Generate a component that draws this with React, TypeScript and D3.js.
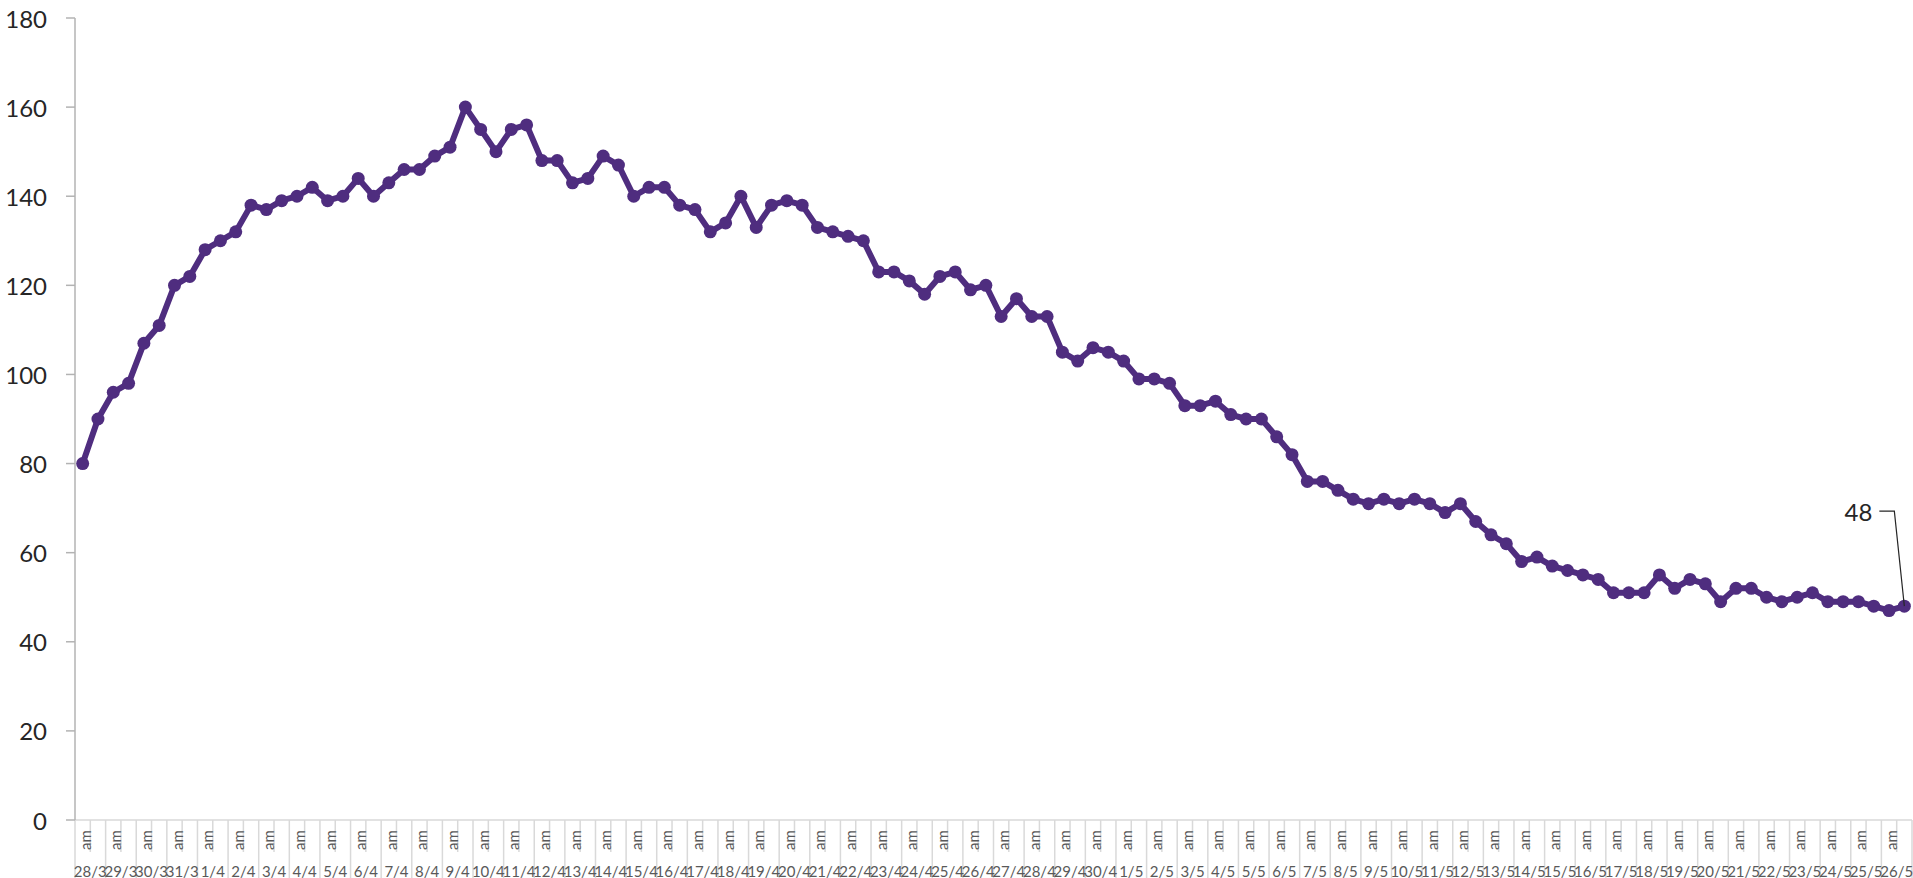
import React from "react";
import * as d3 from "d3";

const dates: string[] = [
  "28/3", "29/3", "30/3", "31/3",
  "1/4", "2/4", "3/4", "4/4", "5/4", "6/4", "7/4", "8/4", "9/4", "10/4",
  "11/4", "12/4", "13/4", "14/4", "15/4", "16/4", "17/4", "18/4", "19/4", "20/4",
  "21/4", "22/4", "23/4", "24/4", "25/4", "26/4", "27/4", "28/4", "29/4", "30/4",
  "1/5", "2/5", "3/5", "4/5", "5/5", "6/5", "7/5", "8/5", "9/5", "10/5",
  "11/5", "12/5", "13/5", "14/5", "15/5", "16/5", "17/5", "18/5", "19/5", "20/5",
  "21/5", "22/5", "23/5", "24/5", "25/5", "26/5",
];

const subLabels: string[] = ["am", ""];

const values: number[] = [
  80, 90, 96, 98, 107, 111, 120, 122, 128, 130,
  132, 138, 137, 139, 140, 142, 139, 140, 144, 140,
  143, 146, 146, 149, 151, 160, 155, 150, 155, 156,
  148, 148, 143, 144, 149, 147, 140, 142, 142, 138,
  137, 132, 134, 140, 133, 138, 139, 138, 133, 132,
  131, 130, 123, 123, 121, 118, 122, 123, 119, 120,
  113, 117, 113, 113, 105, 103, 106, 105, 103, 99,
  99, 98, 93, 93, 94, 91, 90, 90, 86, 82,
  76, 76, 74, 72, 71, 72, 71, 72, 71, 69,
  71, 67, 64, 62, 58, 59, 57, 56, 55, 54,
  51, 51, 51, 55, 52, 54, 53, 49, 52, 52,
  50, 49, 50, 51, 49, 49, 49, 48, 47, 48,
];

const yTicks: number[] = [0, 20, 40, 60, 80, 100, 120, 140, 160, 180];

const FONT = "Lato, 'Open Sans', sans-serif";

export default function App() {
  const W = 1913;
  const H = 878;
  const left = 75;
  const right = 1912;
  const top = 18;
  const bottom = 820;

  const slots = values.map((_, i) => i);
  const x = d3.scaleBand<number>().domain(slots).range([left, right]).padding(0);
  const xg = d3.scaleBand<string>().domain(dates).range([left, right]).padding(0);
  const y = d3.scaleLinear().domain([0, 180]).range([bottom, top]);

  const cx = (i: number) => (x(i) as number) + x.bandwidth() / 2;

  const line = d3
    .line<number>()
    .x((_, i) => cx(i))
    .y((d) => y(d));

  const color = "#4f2d7f";
  const lastI = values.length - 1;
  const lastX = cx(lastI);
  const lastY = y(values[lastI]);

  return (
    <svg
      width={W}
      height={H}
      style={{ position: "absolute", left: 0, top: 0, background: "#fff" }}
    >
      <line x1={left} x2={right} y1={bottom} y2={bottom} stroke="#d9d9d9" strokeWidth={1.5} />
      {dates.map((d, gi) => (
        <line
          key={"g" + gi}
          x1={xg(d) as number}
          x2={xg(d) as number}
          y1={bottom}
          y2={H}
          stroke="#d9d9d9"
          strokeWidth={1.5}
        />
      ))}
      <line x1={right} x2={right} y1={bottom} y2={H} stroke="#d9d9d9" strokeWidth={1.5} />
      {dates.map((d, gi) => (
        <line
          key={"s" + gi}
          x1={(xg(d) as number) + xg.bandwidth() / 2}
          x2={(xg(d) as number) + xg.bandwidth() / 2}
          y1={bottom}
          y2={852}
          stroke="#d9d9d9"
          strokeWidth={1.5}
        />
      ))}
      {slots.map((i) => {
        const lbl = subLabels[i % subLabels.length];
        if (!lbl) return null;
        const px = cx(i) + 2;
        return (
          <text
            key={"a" + i}
            transform={`translate(${px},840) rotate(-90)`}
            textAnchor="middle"
            dominantBaseline="central"
            fontFamily={FONT}
            fontSize={15}
            fill="#595959"
          >
            {lbl}
          </text>
        );
      })}
      {dates.map((d, gi) => (
        <text
          key={"d" + gi}
          x={(xg(d) as number) + xg.bandwidth() / 2}
          y={877}
          textAnchor="middle"
          fontFamily={FONT}
          fontSize={15}
          fill="#595959"
        >
          {d}
        </text>
      ))}
      <line x1={left} x2={left} y1={top} y2={bottom} stroke="#b3b3b3" strokeWidth={1.5} />
      {yTicks.map((t) => (
        <g key={"t" + t}>
          <line x1={66} x2={left} y1={y(t)} y2={y(t)} stroke="#b3b3b3" strokeWidth={1.5} />
          <text
            x={47}
            y={y(t)}
            textAnchor="end"
            dominantBaseline="central"
            fontFamily={FONT}
            fontSize={24}
            fill="#262626"
          >
            {t}
          </text>
        </g>
      ))}
      <path
        d={line(values) || ""}
        fill="none"
        stroke={color}
        strokeWidth={6}
        strokeLinejoin="round"
        strokeLinecap="round"
      />
      {values.map((v, i) => (
        <circle key={"c" + i} cx={cx(i)} cy={y(v)} r={6.5} fill={color} />
      ))}
      <polyline
        points={`${lastX - 25},${lastY - 95} ${lastX - 10},${lastY - 95} ${lastX},${lastY}`}
        fill="none"
        stroke="#262626"
        strokeWidth={1.2}
      />
      <text
        x={lastX - 32}
        y={lastY - 95}
        textAnchor="end"
        dominantBaseline="central"
        fontFamily={FONT}
        fontSize={24}
        fill="#262626"
      >
        {values[lastI]}
      </text>
    </svg>
  );
}
